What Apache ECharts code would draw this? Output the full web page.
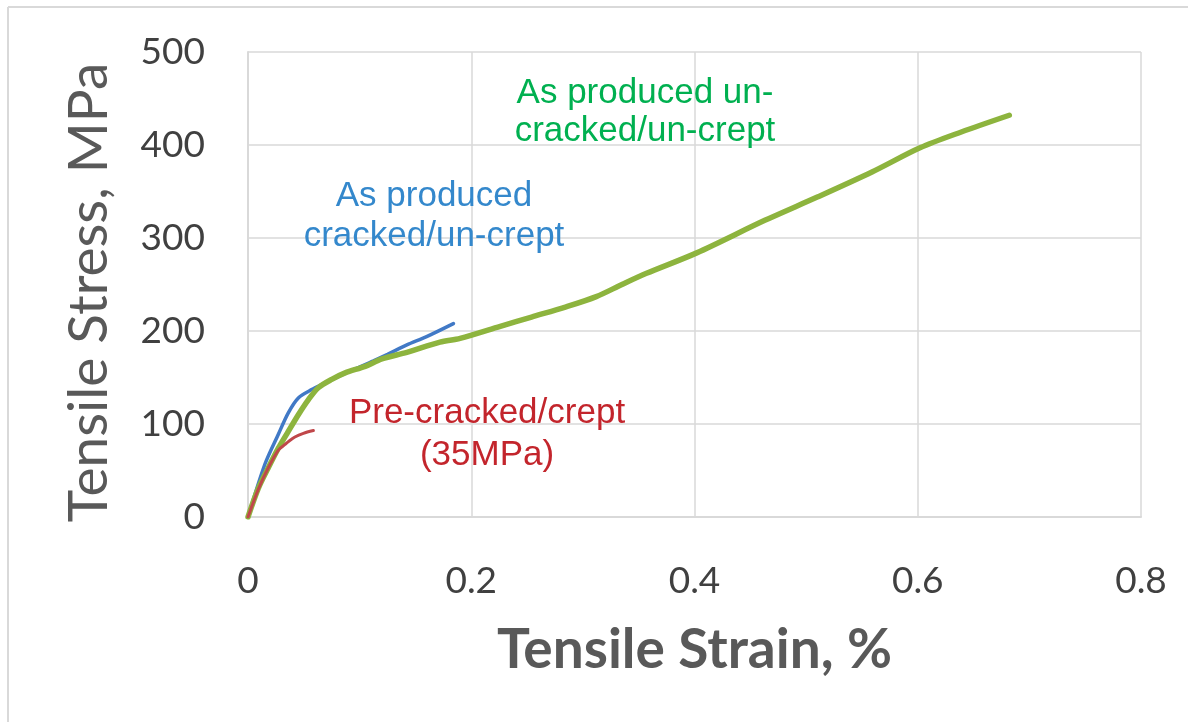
<!DOCTYPE html>
<html>
<head>
<meta charset="utf-8">
<script src="https://cdn.jsdelivr.net/npm/echarts@6/dist/echarts.min.js"></script>
<style>
  html, body { margin: 0; padding: 0; background: #ffffff; }
  #chart { width: 1188px; height: 722px; }
</style>
</head>
<body>
<div id="chart"></div>
<script>
// Tensile stress-strain curves (strain in %, stress in MPa)
const unCrackedCurve = [
  [0, 0], [0.0093, 31], [0.0182, 53], [0.0272, 74], [0.0361, 92], [0.0451, 110],
  [0.054, 126], [0.063, 139], [0.075, 148], [0.087, 155], [0.105, 162], [0.12, 170],
  [0.1423, 177], [0.172, 188], [0.19, 192], [0.226, 205], [0.254, 215], [0.285, 226],
  [0.312, 237], [0.335, 250], [0.357, 262], [0.402, 284], [0.463, 319], [0.51, 344],
  [0.559, 371], [0.602, 397], [0.639, 414], [0.682, 432]
];
const crackedCurve = [
  [0, 0], [0.0152, 57], [0.0272, 89], [0.0361, 112], [0.0451, 128], [0.057, 137],
  [0.069, 144], [0.09, 156], [0.1124, 168], [0.125, 175], [0.1423, 185], [0.16, 194],
  [0.184, 208]
];
const preCrackedCurve = [
  [0, 0], [0.0093, 30], [0.0182, 53], [0.0272, 72], [0.0332, 78], [0.0361, 81],
  [0.042, 86], [0.0496, 90], [0.0586, 93]
];

const xTicks = ['0', '0.2', '0.4', '0.6', '0.8'];
const yTicks = ['0', '100', '200', '300', '400', '500'];

const greenText = ['As produced un-', 'cracked/un-crept'];
const blueText = ['As produced', 'cracked/un-crept'];
const redText = ['Pre-cracked/crept', '(35MPa)'];

const chart = echarts.init(document.getElementById('chart'), null, { renderer: 'canvas' });

const axisFont = 'Lato, "Open Sans", sans-serif';
const noteFont = '"Liberation Sans", Arial, sans-serif';

// Two-line annotation, one text element per line, centred on cx
function noteLines(lines, cx, firstY, gap, color) {
  return lines.map((t, i) => ({
    type: 'text',
    x: cx,
    y: firstY + i * gap,
    style: {
      text: t,
      fill: color,
      font: '35px ' + noteFont,
      textAlign: 'center',
      textVerticalAlign: 'middle'
    },
    z: 10
  }));
}

const option = {
  backgroundColor: '#ffffff',
  animation: false,
  grid: { left: 248, top: 52, right: 47, bottom: 205 },
  xAxis: {
    type: 'value',
    min: 0, max: 0.8, interval: 0.2,
    name: 'Tensile Strain, %',
    nameLocation: 'middle',
    nameGap: 106,
    nameTextStyle: { fontFamily: axisFont, fontSize: 55, fontWeight: 'bold', color: '#595959' },
    axisLine: { show: true, lineStyle: { color: '#d9d9d9', width: 2 } },
    axisTick: { show: false },
    splitLine: { show: true, lineStyle: { color: '#d9d9d9', width: 1.5 } },
    axisLabel: {
      margin: 46,
      fontFamily: axisFont, fontSize: 37, color: '#404040',
      formatter: (v) => xTicks[Math.round(v / 0.2)]
    }
  },
  yAxis: {
    type: 'value',
    min: 0, max: 500, interval: 100,
    name: 'Tensile Stress, MPa',
    nameLocation: 'middle',
    nameGap: 131,
    nameTextStyle: { fontFamily: axisFont, fontSize: 55, color: '#595959', padding: [0, 16, 0, 0] },
    axisLine: { show: true, lineStyle: { color: '#d9d9d9', width: 2 } },
    axisTick: { show: false },
    splitLine: { show: true, lineStyle: { color: '#d9d9d9', width: 1.5 } },
    axisLabel: {
      margin: 43,
      fontFamily: axisFont, fontSize: 37, color: '#404040',
      formatter: (v) => yTicks[Math.round(v / 100)]
    }
  },
  series: [
    {
      name: 'As produced un-cracked/un-crept',
      type: 'line', data: unCrackedCurve, showSymbol: false, smooth: 0.3,
      lineStyle: { color: '#8db43e', width: 5.5, cap: 'round' }, z: 3
    },
    {
      name: 'As produced cracked/un-crept',
      type: 'line', data: crackedCurve, showSymbol: false, smooth: 0.3,
      lineStyle: { color: '#4179c6', width: 3.5, cap: 'round' }, z: 2
    },
    {
      name: 'Pre-cracked/crept (35MPa)',
      type: 'line', data: preCrackedCurve, showSymbol: false, smooth: 0.3,
      lineStyle: { color: '#c0474a', width: 3, cap: 'round' }, z: 4
    }
  ],
  graphic: [
    { type: 'line', shape: { x1: 8, y1: 7, x2: 1188, y2: 7 }, style: { stroke: '#d9d9d9', lineWidth: 2 } },
    { type: 'line', shape: { x1: 8, y1: 7, x2: 8, y2: 722 }, style: { stroke: '#d9d9d9', lineWidth: 2 } },
    ...noteLines(greenText, 645, 93, 38, '#00b050'),
    ...noteLines(blueText, 434, 196, 40, '#3488cc'),
    ...noteLines(redText, 487, 413, 42, '#c3252c')
  ]
};

chart.setOption(option);
</script>
</body>
</html>
